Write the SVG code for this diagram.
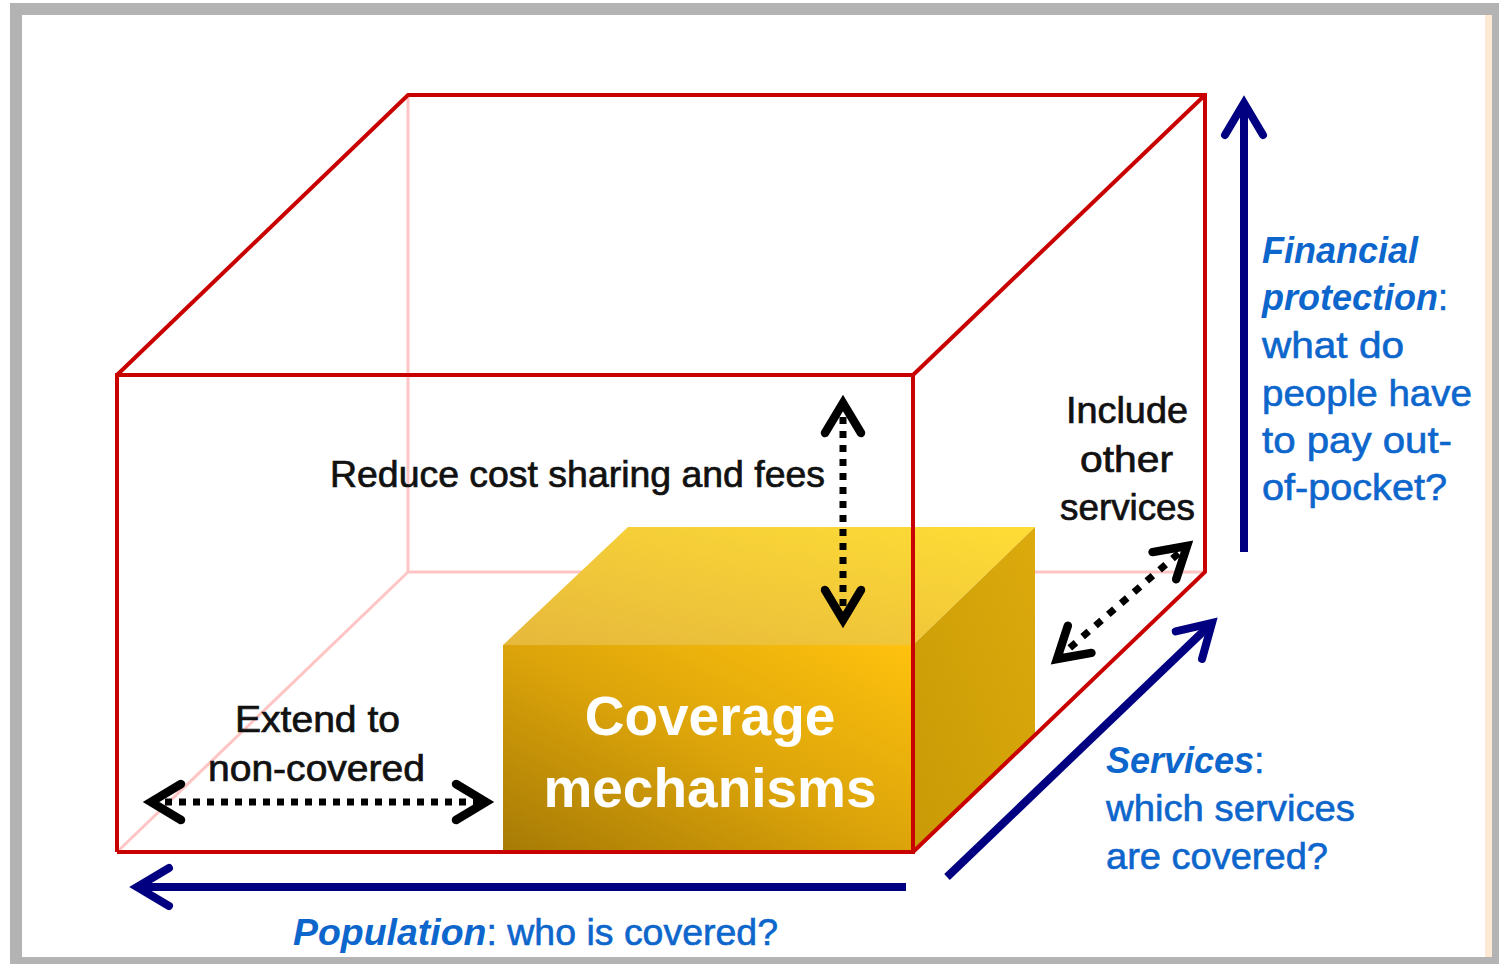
<svg xmlns="http://www.w3.org/2000/svg" width="1499" height="964" viewBox="0 0 1499 964">
<style>
.red{stroke:#c80000;stroke-width:4;fill:none;stroke-linejoin:miter}
.pink{stroke:#ffc4c4;stroke-width:3;fill:none}
.blk{font-family:"Liberation Sans",Arial,sans-serif;font-size:36px;fill:#111;stroke:#111;stroke-width:0.7}
.blu{font-family:"Liberation Sans",Arial,sans-serif;font-size:36px;fill:#0d66cc;stroke:#0d66cc;stroke-width:0.6}
.it{font-style:italic;font-weight:bold;stroke-width:0}
.wht{font-family:"Liberation Sans",Arial,sans-serif;font-size:55px;font-weight:bold;fill:#fff;text-anchor:middle}
.navy{stroke:#000080;stroke-width:8;fill:none}
.dot{stroke:#000;stroke-width:7;fill:none;stroke-dasharray:7 7}
</style>
<defs>
<marker id="mNavy" markerUnits="userSpaceOnUse" viewBox="-45 -30 55 60" markerWidth="55" markerHeight="60" refX="0" refY="0" orient="auto-start-reverse">
<path d="M-32,-19 L0,0 L-32,19" fill="none" stroke="#000080" stroke-width="8" stroke-linecap="round" stroke-linejoin="miter"/>
</marker>
<marker id="mBlk" markerUnits="userSpaceOnUse" viewBox="-45 -30 55 60" markerWidth="55" markerHeight="60" refX="0" refY="0" orient="auto-start-reverse">
<path d="M-30,-18 L0,0 L-30,18" fill="none" stroke="#000" stroke-width="8.5" stroke-linecap="round" stroke-linejoin="miter"/>
</marker>
<linearGradient id="gFront" x1="0" y1="1" x2="1" y2="0">
<stop offset="0" stop-color="#a67a05"/>
<stop offset="0.5" stop-color="#dca40a"/>
<stop offset="1" stop-color="#ffc20e"/>
</linearGradient>
<linearGradient id="gTop" x1="0" y1="1" x2="1" y2="0">
<stop offset="0" stop-color="#e6b83c"/>
<stop offset="1" stop-color="#ffdd35"/>
</linearGradient>
<linearGradient id="gSide" x1="0" y1="1" x2="1" y2="0">
<stop offset="0" stop-color="#c99a06"/>
<stop offset="1" stop-color="#dcaa0c"/>
</linearGradient>
</defs>

<g id="frame">
<rect x="10" y="3" width="1489" height="961" fill="#b3b3b3"/>
<rect x="22" y="15" width="1463" height="942" fill="#ffffff"/>
<rect x="1485" y="15" width="7" height="942" fill="#fde9d3"/>
</g>

<g id="cube-back">
<polyline class="pink" points="408,95 408,572 1205,572"/>
<line class="pink" x1="117" y1="852" x2="408" y2="572"/>
</g>

<g id="coverage-box">
<polygon points="503,645 628,527 1035,527 913,645" fill="url(#gTop)"/>
<polygon points="913,645 1035,527 1035,735 913,852" fill="url(#gSide)"/>
<rect x="503" y="645" width="410" height="207" fill="url(#gFront)"/>
<text class="wht" x="710" y="735">Coverage</text>
<text class="wht" x="710" y="807">mechanisms</text>
</g>

<g id="cube">
<polyline class="red" points="117,852 117,375 913,375 913,852 117,852"/>
<polyline class="red" points="117,375 408,95 1205,95 1205,572 913,852"/>
<line class="red" x1="913" y1="375" x2="1205" y2="95"/>
</g>

<g id="connectors">
<line class="navy" x1="1244" y1="552" x2="1244" y2="103" marker-end="url(#mNavy)"/>
<line class="navy" x1="947" y1="877" x2="1212" y2="623" marker-end="url(#mNavy)"/>
<line class="navy" x1="906" y1="887" x2="137" y2="887" marker-end="url(#mNavy)"/>
<line class="dot" x1="843" y1="403" x2="843" y2="620" marker-start="url(#mBlk)" marker-end="url(#mBlk)"/>
<line class="dot" x1="151" y1="802" x2="486" y2="802" marker-start="url(#mBlk)" marker-end="url(#mBlk)"/>
<line class="dot" x1="1057" y1="659" x2="1187" y2="546" style="stroke-dasharray:8 9" marker-start="url(#mBlk)" marker-end="url(#mBlk)"/>
</g>

<g id="labels">
<text class="blk" x="330" y="487" textLength="495" lengthAdjust="spacingAndGlyphs">Reduce cost sharing and fees</text>
<text class="blk" x="1066" y="423" textLength="122" lengthAdjust="spacingAndGlyphs">Include</text>
<text class="blk" x="1080" y="472" textLength="93" lengthAdjust="spacingAndGlyphs">other</text>
<text class="blk" x="1060" y="520" textLength="135" lengthAdjust="spacingAndGlyphs">services</text>
<text class="blk" x="235" y="732" textLength="165" lengthAdjust="spacingAndGlyphs">Extend to</text>
<text class="blk" x="208" y="781" textLength="217" lengthAdjust="spacingAndGlyphs">non-covered</text>

<text class="blu" x="1262" y="263"><tspan class="it">Financial</tspan></text>
<text class="blu" x="1262" y="310"><tspan class="it">protection</tspan>:</text>
<text class="blu" x="1262" y="358" textLength="142" lengthAdjust="spacingAndGlyphs">what do</text>
<text class="blu" x="1262" y="406" textLength="210" lengthAdjust="spacingAndGlyphs">people have</text>
<text class="blu" x="1262" y="453" textLength="190" lengthAdjust="spacingAndGlyphs">to pay out-</text>
<text class="blu" x="1262" y="500" textLength="185" lengthAdjust="spacingAndGlyphs">of-pocket?</text>
<text class="blu" x="1106" y="773"><tspan class="it">Services</tspan>:</text>
<text class="blu" x="1106" y="821" textLength="249" lengthAdjust="spacingAndGlyphs">which services</text>
<text class="blu" x="1106" y="869" textLength="222" lengthAdjust="spacingAndGlyphs">are covered?</text>
<text class="blu" x="293" y="945" textLength="485" lengthAdjust="spacingAndGlyphs"><tspan class="it">Population</tspan>: who is covered?</text>
</g>
</svg>
